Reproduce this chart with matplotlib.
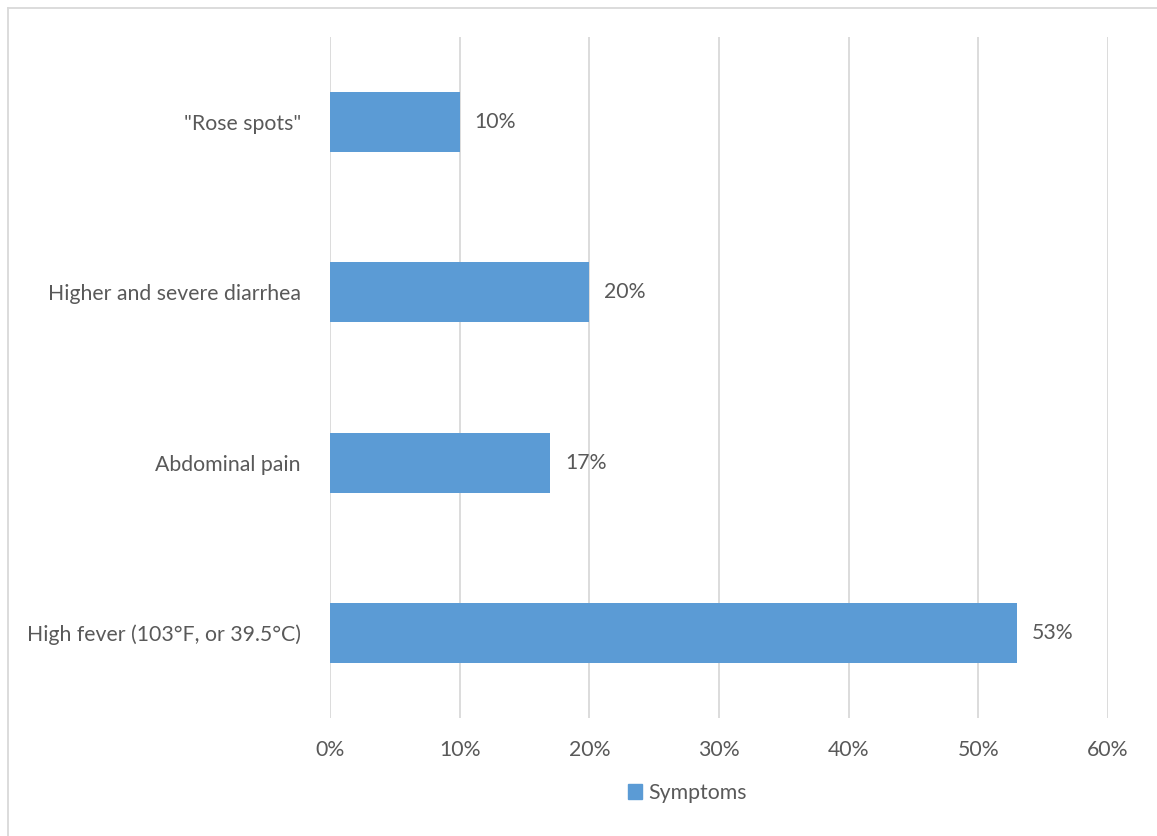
import matplotlib
matplotlib.use('Agg')
import matplotlib.pyplot as plt
from matplotlib.lines import Line2D
from matplotlib.ticker import PercentFormatter

# Symptom shares, bottom to top as drawn
symptoms = ['High fever (103°F, or 39.5°C)', 'Abdominal pain',
            'Higher and severe diarrhea', '"Rose spots"']
shares = [53, 17, 20, 10]
x_ticks = [0, 10, 20, 30, 40, 50, 60]

text_col = '#595959'
grid_col = '#d9d9d9'
bar_col = '#5b9bd5'
fs = 15.3

plt.rcParams['font.family'] = ['Lato', 'DejaVu Sans']
plt.rcParams['font.size'] = fs

fig = plt.figure(figsize=(11.57, 8.36), dpi=100)
ax = fig.add_axes([330 / 1157, 1 - 718 / 836, 778 / 1157, 681 / 836])

pos = range(len(symptoms))
ax.barh(pos, shares, height=0.353, color=bar_col, zorder=3)
for y, v in zip(pos, shares):
    ax.text(v + 1.15, y, f'{v}%', va='center', ha='left', color=text_col, fontsize=fs)

ax.set_xlim(0, 60)
ax.set_ylim(-0.5, len(symptoms) - 0.5)
ax.set_xticks(x_ticks)
ax.xaxis.set_major_formatter(PercentFormatter(decimals=0))
ax.set_yticks(list(pos))
ax.set_yticklabels(symptoms)
ax.tick_params(axis='both', length=0, colors=text_col, labelsize=fs)
ax.tick_params(axis='x', pad=16)
ax.tick_params(axis='y', pad=21)
ax.grid(axis='x', color=grid_col, linewidth=1.3, zorder=0)
for s in ax.spines.values():
    s.set_visible(False)

# legend below the plot
leg = fig.legend([plt.Rectangle((0, 0), 1, 1, color=bar_col)], ['Symptoms'],
                 loc='center', bbox_to_anchor=(0.594, 1 - 793 / 836), frameon=False,
                 handlelength=0.65, handleheight=0.65, handletextpad=0.3, fontsize=fs)
for t in leg.get_texts():
    t.set_color(text_col)

# light chart frame
fx = 7.5 / 1157
fy = 1 - 7.5 / 836
fig.add_artist(Line2D([fx, fx], [0, fy], color=grid_col, linewidth=1.3))
fig.add_artist(Line2D([fx, 1], [fy, fy], color=grid_col, linewidth=1.3))

fig.savefig('out.png', dpi=100)
